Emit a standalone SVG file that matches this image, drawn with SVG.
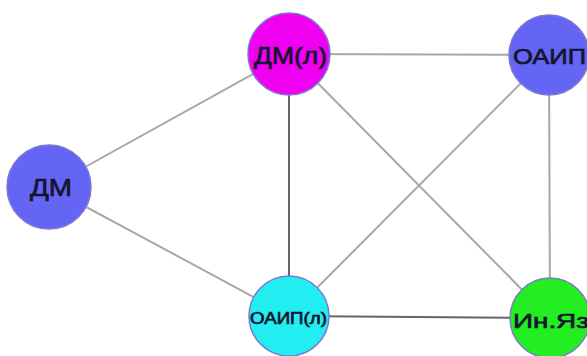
<svg xmlns="http://www.w3.org/2000/svg" width="587" height="356" viewBox="0 0 587 356">
<style>
.e{stroke:#a8a8a8;stroke-width:2;fill:none}
.d{stroke:#666;stroke-width:2;fill:none}
.n{stroke:#7a7ad0;stroke-width:1.5}
.t{font-family:"Liberation Sans",Arial,sans-serif;fill:#151530;stroke:#151530;stroke-width:0.7;dominant-baseline:central}
</style>
<rect width="587" height="356" fill="#fff"/>
<g id="edges">
<line class="e" x1="49" y1="187" x2="289" y2="54"/>
<line class="e" x1="49" y1="187" x2="289" y2="316"/>
<line class="e" x1="289" y1="54" x2="549" y2="55"/>
<line class="d" x1="289" y1="54" x2="289" y2="316"/>
<line class="e" x1="289" y1="54" x2="550" y2="318"/>
<line class="e" x1="549" y1="55" x2="289" y2="316"/>
<line class="e" x1="549" y1="55" x2="550" y2="318"/>
<line class="d" x1="289" y1="316" x2="550" y2="318"/>
</g>
<g id="n-dml"><circle class="n" cx="289" cy="54" r="41" fill="#f000f0" stroke="#b000b0"/><text class="t" x="254" y="55" font-size="24" textLength="73" lengthAdjust="spacingAndGlyphs">ДМ(л)</text></g>
<g id="n-oaip"><circle class="n" cx="549" cy="55" r="40" fill="#6464f5"/><text class="t" x="513" y="56" font-size="22" textLength="73" lengthAdjust="spacingAndGlyphs">ОАИП</text></g>
<g id="n-dm"><circle class="n" cx="49" cy="187" r="42" fill="#6464f5"/><text class="t" x="30" y="187" font-size="24" textLength="42" lengthAdjust="spacingAndGlyphs">ДМ</text></g>
<g id="n-oaipl"><circle class="n" cx="289" cy="316" r="40" fill="#22eef2" stroke="#20b0c0"/><text class="t" x="250" y="318" font-size="16" textLength="77" lengthAdjust="spacingAndGlyphs">ОАИП(л)</text></g>
<g id="n-inyaz"><circle class="n" cx="550" cy="318" r="40" fill="#22ee22" stroke="#20b020"/><text class="t" x="513" y="320" font-size="21" textLength="76" lengthAdjust="spacingAndGlyphs">Ин.Яз</text></g>
</svg>
